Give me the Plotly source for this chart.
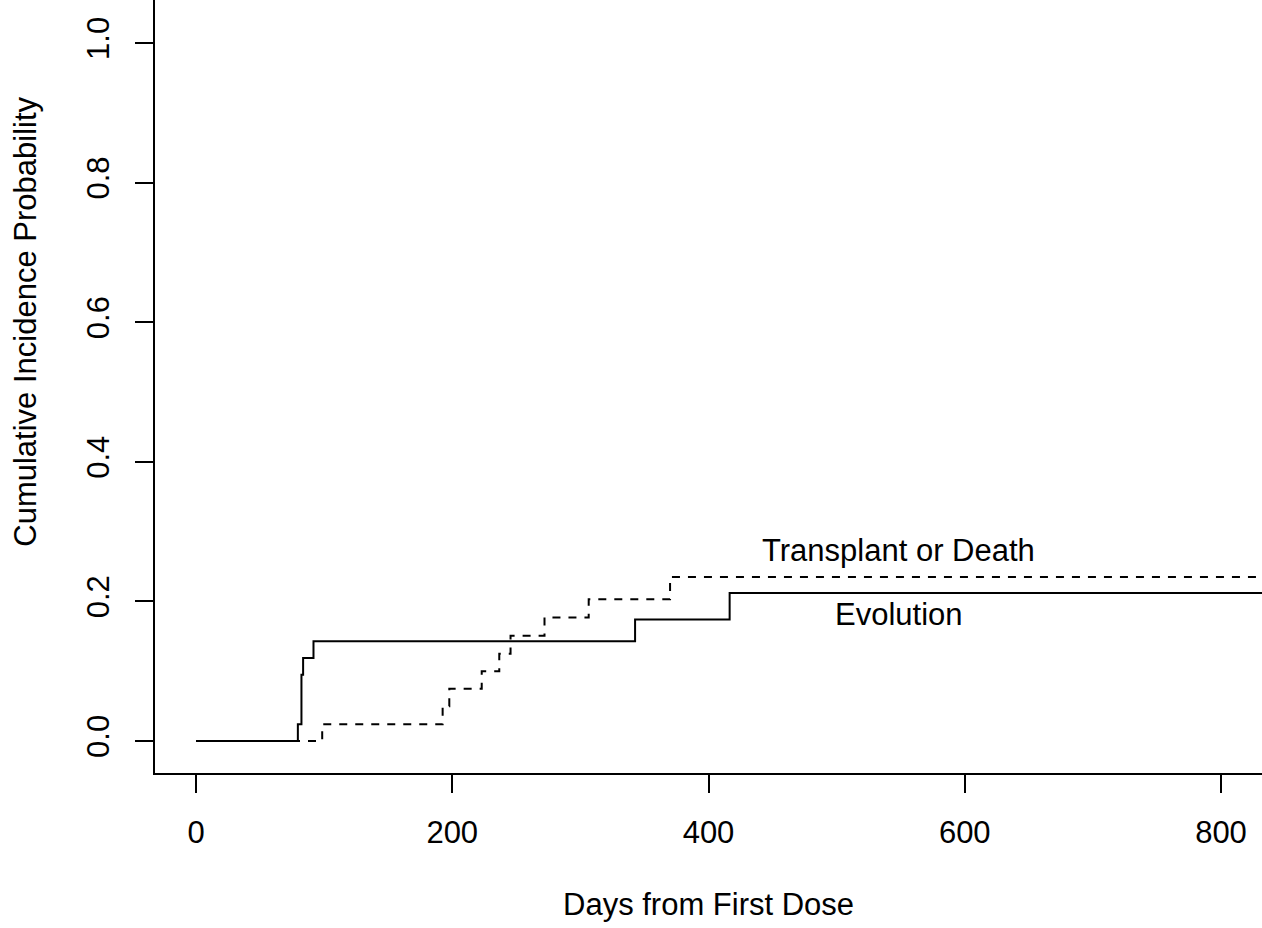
import plotly.graph_objects as go

# Evolution (solid) cumulative incidence steps
evo_days = [0, 79.5, 82.3, 83.6, 91.7, 342.7, 416.5, 900]
evo_cif = [0.0, 0.024, 0.095, 0.119, 0.143, 0.174, 0.212, 0.212]

# Transplant or Death (dashed) cumulative incidence steps
trd_days = [0, 98.5, 192.5, 197.7, 223.0, 236.7, 245.5, 272.0, 306.5, 370.0, 900]
trd_cif = [0.0, 0.024, 0.050, 0.075, 0.100, 0.125, 0.151, 0.177, 0.203, 0.235, 0.235]

x_ticks = [0, 200, 400, 600, 800]
y_ticks = [0.0, 0.2, 0.4, 0.6, 0.8, 1.0]
y_tick_text = ["0.0", "0.2", "0.4", "0.6", "0.8", "1.0"]

FONT = "Liberation Sans, Arial, sans-serif"
FS = 31

fig = go.Figure()
fig.add_trace(go.Scatter(x=trd_days, y=trd_cif, mode="lines", line_shape="hv",
                         line=dict(color="black", width=2, dash="8px,8px"),
                         name="Transplant or Death", showlegend=False))
fig.add_trace(go.Scatter(x=evo_days, y=evo_cif, mode="lines", line_shape="hv",
                         line=dict(color="black", width=2),
                         name="Evolution", showlegend=False))

fig.update_layout(
    width=1262, height=928,
    margin=dict(l=155, r=0, t=0, b=155),
    paper_bgcolor="white", plot_bgcolor="white",
    font=dict(family=FONT, size=FS, color="black"),
    xaxis=dict(range=[-32, 832], tickvals=x_ticks, ticks="outside", ticklen=18,
               tickwidth=2, tickcolor="black", showline=True, linewidth=2,
               linecolor="black", showgrid=False, zeroline=False,
               tickfont=dict(family=FONT, size=FS), ticklabelstandoff=13),
    yaxis=dict(range=[-0.0458, 1.0616], tickvals=y_ticks, ticktext=y_tick_text,
               ticks="outside", ticklen=18, tickwidth=2, tickcolor="black",
               showline=True, linewidth=2, linecolor="black", showgrid=False,
               zeroline=False, tickangle=-90,
               tickfont=dict(family=FONT, size=FS), ticklabelstandoff=14),
    annotations=[
        dict(x=548, y=0.2736, xref="x", yref="y", text="Transplant or Death",
             showarrow=False, xanchor="center", yanchor="middle",
             font=dict(family=FONT, size=FS)),
        dict(x=549, y=0.181, xref="x", yref="y", text="Evolution",
             showarrow=False, xanchor="center", yanchor="middle",
             font=dict(family=FONT, size=FS)),
        dict(x=400, y=-0.1695, xref="x", yref="paper", text="Days from First Dose",
             showarrow=False, xanchor="center", yanchor="middle",
             font=dict(family=FONT, size=FS)),
        dict(x=(25.5 - 155) / 1107, y=0.6, xref="paper", yref="y",
             text="Cumulative Incidence Probability", textangle=-90,
             showarrow=False, xanchor="center", yanchor="middle",
             font=dict(family=FONT, size=FS)),
    ],
)

fig.write_html("out.html")
